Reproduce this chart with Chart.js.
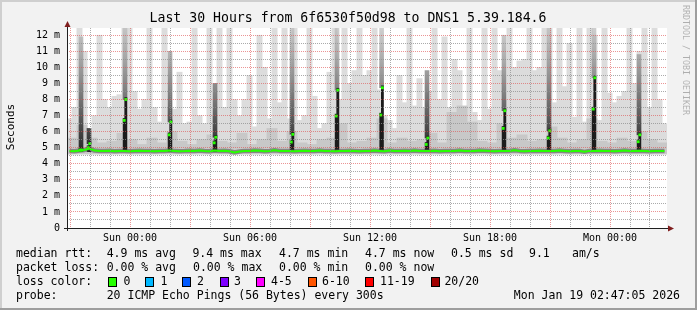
<!DOCTYPE html>
<html>
<head>
<meta charset="utf-8">
<title>Last 30 Hours - DNS1</title>
<script src="https://cdn.jsdelivr.net/npm/chart.js@4.4.1/dist/chart.umd.min.js"></script>
<style>
    html, body { margin: 0; padding: 0; background: #f2f2f2; }
    canvas { display: block; }
</style>
</head>
<body>
<canvas id="smoke-graph" width="697" height="310"></canvas>
<script>
// time is in hours relative to Sun 00:00, graph starts Sat 20:51
var START = -3.15;
var END = 26.85;
var COL_STEP = 0.25; // light smoke columns, 15 min each
var MID_STEP = 0.5;  // darker smoke bins, 30 min each
var SMOKE_FLOOR = 4.58;

// outer (lightest) smoke top per 15 min column, ms
var smokeTop = [
    6.8, 7.5, 12.5, 11.0, 6.0, 7.0, 12.0, 8.0, 7.5, 8.2,
    8.3, 12.5, 12.5, 8.5, 7.4, 8.0, 12.5, 7.5, 6.6, 12.5,
    7.5, 7.4, 9.7, 6.5, 6.6, 12.5, 7.0, 6.5, 12.5, 7.0,
    12.5, 7.5, 12.5, 8.0, 7.0, 8.0, 9.5, 6.3, 12.0, 10.0,
    6.8, 12.5, 7.8, 12.5, 6.8, 12.5, 6.7, 7.0, 12.5, 8.2,
    6.2, 6.5, 9.7, 12.5, 8.0, 12.5, 9.0, 9.8, 12.5, 9.5,
    9.8, 12.5, 8.6, 7.0, 6.7, 6.2, 9.5, 7.8, 12.5, 7.6,
    9.3, 7.5, 8.5, 12.5, 8.0, 11.9, 7.5, 10.5, 9.8, 7.0,
    12.5, 7.2, 6.7, 12.5, 7.4, 12.5, 9.8, 8.0, 12.5, 10.0,
    10.4, 10.5, 12.5, 9.8, 10.0, 12.5, 12.5, 7.8, 12.5, 8.8,
    11.5, 6.9, 12.5, 6.6, 12.5, 12.0, 6.7, 12.5, 8.4, 7.8,
    8.2, 8.5, 12.5, 9.0, 11.0, 12.5, 7.5, 12.5, 8.0, 6.5
];

// denser smoke top per 30 min bin, ms
var smokeMid = [
    5.6, 6.4, 5.6, 5.3, 5.4, 5.9, 5.5, 5.2, 5.6, 5.3,
    6.0, 5.4, 5.2, 5.5, 5.8, 5.4, 5.3, 5.9, 5.2, 5.5,
    6.2, 5.4, 6.0, 5.3, 5.2, 5.5, 5.6, 6.5, 5.3, 5.4,
    5.6, 6.8, 5.3, 5.6, 5.4, 5.5, 5.9, 5.3, 7.2, 7.6,
    6.6, 5.4, 5.3, 6.5, 5.6, 5.8, 5.4, 5.5, 6.3, 5.6,
    5.3, 5.5, 6.8, 5.4, 5.3, 5.6, 5.4, 6.0, 5.5, 5.3
];

// median rtt per 15 min column, ms
var median = [
    4.80, 4.78, 4.83, 4.86, 4.95, 4.82, 4.80, 4.79, 4.81, 4.78,
    4.80, 4.79, 4.78, 4.80, 4.81, 4.79, 4.80, 4.78, 4.80, 4.79,
    4.82, 4.80, 4.78, 4.79, 4.81, 4.80, 4.83, 4.80, 4.78, 4.82,
    4.80, 4.81, 4.78, 4.70, 4.76, 4.80, 4.79, 4.82, 4.81, 4.78,
    4.80, 4.84, 4.80, 4.79, 4.80, 4.78, 4.80, 4.81, 4.79, 4.80,
    4.82, 4.79, 4.80, 4.78, 4.80, 4.79, 4.81, 4.80, 4.78, 4.80,
    4.80, 4.82, 4.80, 4.78, 4.83, 4.80, 4.79, 4.81, 4.80, 4.82,
    4.80, 4.79, 4.80, 4.81, 4.78, 4.80, 4.79, 4.80, 4.83, 4.80,
    4.79, 4.80, 4.82, 4.81, 4.80, 4.78, 4.80, 4.79, 4.80, 4.84,
    4.80, 4.78, 4.80, 4.79, 4.81, 4.80, 4.79, 4.80, 4.82, 4.80,
    4.78, 4.80, 4.79, 4.74, 4.80, 4.80, 4.81, 4.79, 4.80, 4.78,
    4.80, 4.82, 4.79, 4.80, 4.81, 4.80, 4.78, 4.80, 4.79, 4.80
];

// short latency bursts: two 5 min samples each
var spikeTimes = [-2.45, -2.05, -0.25, 2.0, 4.25, 8.1, 10.35, 12.58, 14.85, 18.7, 20.95, 23.2, 25.45];
var spikeMedLo = [4.85, 5.0, 6.7, 5.8, 5.3, 5.35, 6.97, 7.03, 5.2, 6.2, 5.6, 7.4, 5.37];
var spikeMedHi = [4.85, 5.25, 8.0, 6.6, 5.65, 5.83, 8.58, 8.73, 5.6, 7.3, 6.05, 9.35, 5.8];
var spikeTop = [11.9, 6.2, 12.5, 11.0, 9.0, 12.5, 12.5, 12.5, 9.8, 12.0, 12.5, 12.5, 10.8];

var xTickHours = [0, 6, 12, 18, 24];
var xTickLabels = ['Sun 00:00', 'Sun 06:00', 'Sun 12:00', 'Sun 18:00', 'Mon 00:00'];
var yTickValues = [0, 1, 2, 3, 4, 5, 6, 7, 8, 9, 10, 11, 12];
var yTickLabels = ['0', '1 m', '2 m', '3 m', '4 m', '5 m', '6 m', '7 m', '8 m', '9 m', '10 m', '11 m', '12 m'];

var medianRttStats = ['4.9 ms avg', '9.4 ms max', '4.7 ms min', '4.7 ms now', '0.5 ms sd', '9.1', 'am/s'];
var packetLossStats = ['0.00 % avg', '0.00 % max', '0.00 % min', '0.00 % now'];
var lossLabels = ['0', '1', '2', '3', '4-5', '6-10', '11-19', '20/20'];
var lossColors = ['#26ff00', '#00b8ff', '#0059ff', '#7e00ff', '#ff00ff', '#ff5500', '#ff0000', '#a10000'];
var probeText = '20 ICMP Echo Pings (56 Bytes) every 300s';
var stampText = 'Mon Jan 19 02:47:05 2026';
var titleText = 'Last 30 Hours from 6f6530f50d98 to DNS1 5.39.184.6';

var FONT = '"DejaVu Sans Mono", "Liberation Mono", monospace';
var GREEN = lossColors[0];

document.addEventListener('DOMContentLoaded', function () {
    var ctx = document.getElementById('smoke-graph').getContext('2d');

    var lightData = smokeTop.map(function (v, i) {
        return { x: START + COL_STEP * (i + 0.5), y: [SMOKE_FLOOR, v] };
    });
    var midData = smokeMid.map(function (v, j) {
        return { x: START + MID_STEP * (j + 0.5), y: [SMOKE_FLOOR + 0.06, v] };
    });
    var medianData = median.map(function (v, i) {
        return { x: START + COL_STEP * (i + 0.5), y: v };
    });
    var fadeData = spikeTimes.map(function (t, k) {
        return { x: t, y: [spikeMedHi[k], spikeTop[k]] };
    });
    var coreData = [];
    var dotData = [];
    spikeTimes.forEach(function (t, k) {
        coreData.push({ x: t - 0.04, y: [4.76, spikeMedLo[k] + 0.12] });
        coreData.push({ x: t + 0.04, y: [4.76, spikeMedHi[k] + 0.12] });
        dotData.push({ x: t - 0.04, y: spikeMedLo[k] });
        dotData.push({ x: t + 0.04, y: spikeMedHi[k] });
    });

    function fadeColor(c) {
        var chart = c.chart;
        if (!chart.chartArea) return '#555555';
        var ys = chart.scales.y;
        var g = chart.ctx.createLinearGradient(0, ys.getPixelForValue(5), 0, ys.getPixelForValue(12.4));
        g.addColorStop(0, 'rgba(35, 35, 35, 0.95)');
        g.addColorStop(0.45, 'rgba(105, 105, 105, 0.85)');
        g.addColorStop(1, 'rgba(185, 185, 185, 0.7)');
        return g;
    }

    var rrdFrame = {
        id: 'rrdFrame',
        beforeDraw: function (chart) {
            var c = chart.ctx, a = chart.chartArea, w = chart.width, h = chart.height;
            c.save();
            c.fillStyle = '#f2f2f2';
            c.fillRect(0, 0, w, h);
            c.fillStyle = '#ffffff';
            c.fillRect(a.left, a.top, a.right - a.left, a.bottom - a.top);
            c.fillStyle = '#cfcfcf';
            c.fillRect(0, 0, w, 2);
            c.fillRect(0, 0, 2, h);
            c.fillStyle = '#9e9e9e';
            c.fillRect(0, h - 2, w, 2);
            c.fillRect(w - 2, 0, 2, h);
            c.restore();
        },
        afterDraw: function (chart) {
            var c = chart.ctx, a = chart.chartArea;
            c.save();
            // axes
            c.strokeStyle = '#1f1f1f';
            c.lineWidth = 1;
            c.beginPath();
            c.moveTo(a.left - 3, a.bottom + 0.5);
            c.lineTo(a.right + 1, a.bottom + 0.5);
            c.moveTo(a.left + 0.5, a.bottom + 3);
            c.lineTo(a.left + 0.5, a.top - 2);
            c.stroke();
            // arrows
            c.fillStyle = '#801f1f';
            c.beginPath();
            c.moveTo(a.left + 0.5, a.top - 7);
            c.lineTo(a.left - 2.5, a.top - 1);
            c.lineTo(a.left + 3.5, a.top - 1);
            c.closePath();
            c.fill();
            c.beginPath();
            c.moveTo(a.right + 7, a.bottom + 0.5);
            c.lineTo(a.right + 1, a.bottom - 2.5);
            c.lineTo(a.right + 1, a.bottom + 3.5);
            c.closePath();
            c.fill();

            c.fillStyle = '#000000';
            c.textBaseline = 'middle';
            // title
            c.font = '13.2px ' + FONT;
            c.textAlign = 'center';
            c.fillText(titleText, 348, 19);

            // vertical axis title
            c.save();
            c.translate(11, 127);
            c.rotate(-Math.PI / 2);
            c.font = '11px ' + FONT;
            c.fillText('Seconds', 0, 0);
            c.restore();

            // watermark
            c.save();
            c.translate(685, 5);
            c.rotate(Math.PI / 2);
            c.textAlign = 'left';
            c.fillStyle = 'rgba(0, 0, 0, 0.28)';
            c.font = '8.3px ' + FONT;
            c.fillText('RRDTOOL / TOBI OETIKER', 0, 0);
            c.restore();

            // legend
            c.font = '11.5px ' + FONT;
            c.textAlign = 'left';
            var statX = [106.7, 192.4, 279, 365, 451, 529, 572];
            c.fillText('median rtt:', 16, 254.5);
            medianRttStats.forEach(function (s, i) { c.fillText(s, statX[i], 254.5); });
            var lossX = [106.7, 193, 279, 365];
            c.fillText('packet loss:', 16, 268.5);
            packetLossStats.forEach(function (s, i) { c.fillText(s, lossX[i], 268.5); });
            c.fillText('loss color:', 16, 282);
            var boxX = [108, 145.3, 182.2, 219.6, 256.4, 307.6, 365.3, 430.7];
            var labX = [123.6, 160.4, 197, 234, 271, 322, 380, 444.4];
            lossLabels.forEach(function (s, i) {
                var bx = Math.round(boxX[i]);
                c.fillStyle = lossColors[i];
                c.fillRect(bx, 277, 9, 10);
                c.strokeStyle = '#000000';
                c.strokeRect(bx + 0.5, 277.5, 8, 9);
                c.fillStyle = '#000000';
                c.fillText(s, labX[i], 282);
            });
            c.fillText('probe:', 16, 296);
            c.fillText(probeText, 106.7, 296);
            c.textAlign = 'right';
            c.fillText(stampText, 680, 296);
            c.restore();
        }
    };

    var majorGrid = 'rgba(222, 79, 79, 0.6)';
    var minorGrid = 'rgba(143, 143, 143, 0.75)';

    var smokeChart = new Chart(ctx, {
        type: 'bar',
        data: {
            datasets: [{
                type: 'line',
                label: 'median burst',
                data: dotData,
                showLine: false,
                pointStyle: 'rect',
                pointRadius: 2,
                pointBackgroundColor: GREEN,
                pointBorderWidth: 0,
                order: 1
            }, {
                type: 'line',
                label: 'median',
                data: medianData,
                borderColor: GREEN,
                borderWidth: 2,
                borderJoinStyle: 'round',
                pointRadius: 0,
                order: 2
            }, {
                type: 'line',
                label: 'median shade',
                data: medianData,
                borderColor: 'rgba(80, 80, 80, 0.55)',
                borderWidth: 4.5,
                borderJoinStyle: 'round',
                pointRadius: 0,
                order: 3
            }, {
                label: 'burst core',
                data: coreData,
                backgroundColor: '#1c1c1c',
                barThickness: 2.2,
                order: 4
            }, {
                label: 'burst smoke',
                data: fadeData,
                backgroundColor: fadeColor,
                barThickness: 4,
                order: 5
            }, {
                label: 'dense smoke',
                data: midData,
                backgroundColor: '#c8c8c8',
                barThickness: 10.3,
                order: 6
            }, {
                label: 'smoke',
                data: lightData,
                backgroundColor: '#dcdcdc',
                barThickness: 5.3,
                order: 7
            }]
        },
        options: {
            responsive: false,
            animation: false,
            events: [],
            layout: { padding: { left: 0, right: 30, top: 28, bottom: 62 } },
            datasets: { bar: { grouped: false, borderWidth: 0 } },
            plugins: {
                legend: { display: false },
                tooltip: { enabled: false }
            },
            scales: {
                x: {
                    type: 'linear',
                    min: START,
                    max: END,
                    offset: false,
                    grid: {
                        z: 1,
                        offset: false,
                        drawTicks: false,
                        color: function (c) {
                            return c.tick && Math.abs(c.tick.value % 3) < 1e-6 ? majorGrid : minorGrid;
                        }
                    },
                    border: { display: false, dash: [1, 1] },
                    ticks: {
                        autoSkip: false,
                        maxRotation: 0,
                        padding: 4,
                        color: '#000000',
                        font: { family: FONT, size: 10 },
                        callback: function (value) {
                            var idx = xTickHours.indexOf(value);
                            return idx >= 0 ? xTickLabels[idx] : '';
                        }
                    },
                    afterBuildTicks: function (scale) {
                        var t = [];
                        for (var h = -3; h <= 26; h++) t.push({ value: h });
                        scale.ticks = t;
                    },
                    afterFit: function (scale) { scale.height = 20; }
                },
                y: {
                    min: 0,
                    max: 12.45,
                    grid: {
                        z: 1,
                        drawTicks: false,
                        color: function (c) {
                            if (!c.tick || c.tick.value === 0) return 'rgba(0,0,0,0)';
                            return c.tick.value % 1 === 0 ? majorGrid : minorGrid;
                        }
                    },
                    border: { display: false, dash: [1, 1] },
                    ticks: {
                        autoSkip: false,
                        padding: 7,
                        color: '#000000',
                        font: { family: FONT, size: 10 },
                        callback: function (value) {
                            var idx = yTickValues.indexOf(value);
                            return idx >= 0 ? yTickLabels[idx] : '';
                        }
                    },
                    afterBuildTicks: function (scale) {
                        var t = [];
                        yTickValues.forEach(function (v, i) {
                            t.push({ value: v });
                            if (i < yTickValues.length - 1) t.push({ value: v + 0.5 });
                        });
                        scale.ticks = t;
                    },
                    afterFit: function (scale) { scale.width = 67; }
                }
            }
        },
        plugins: [rrdFrame]
    });
});
</script>
</body>
</html>
